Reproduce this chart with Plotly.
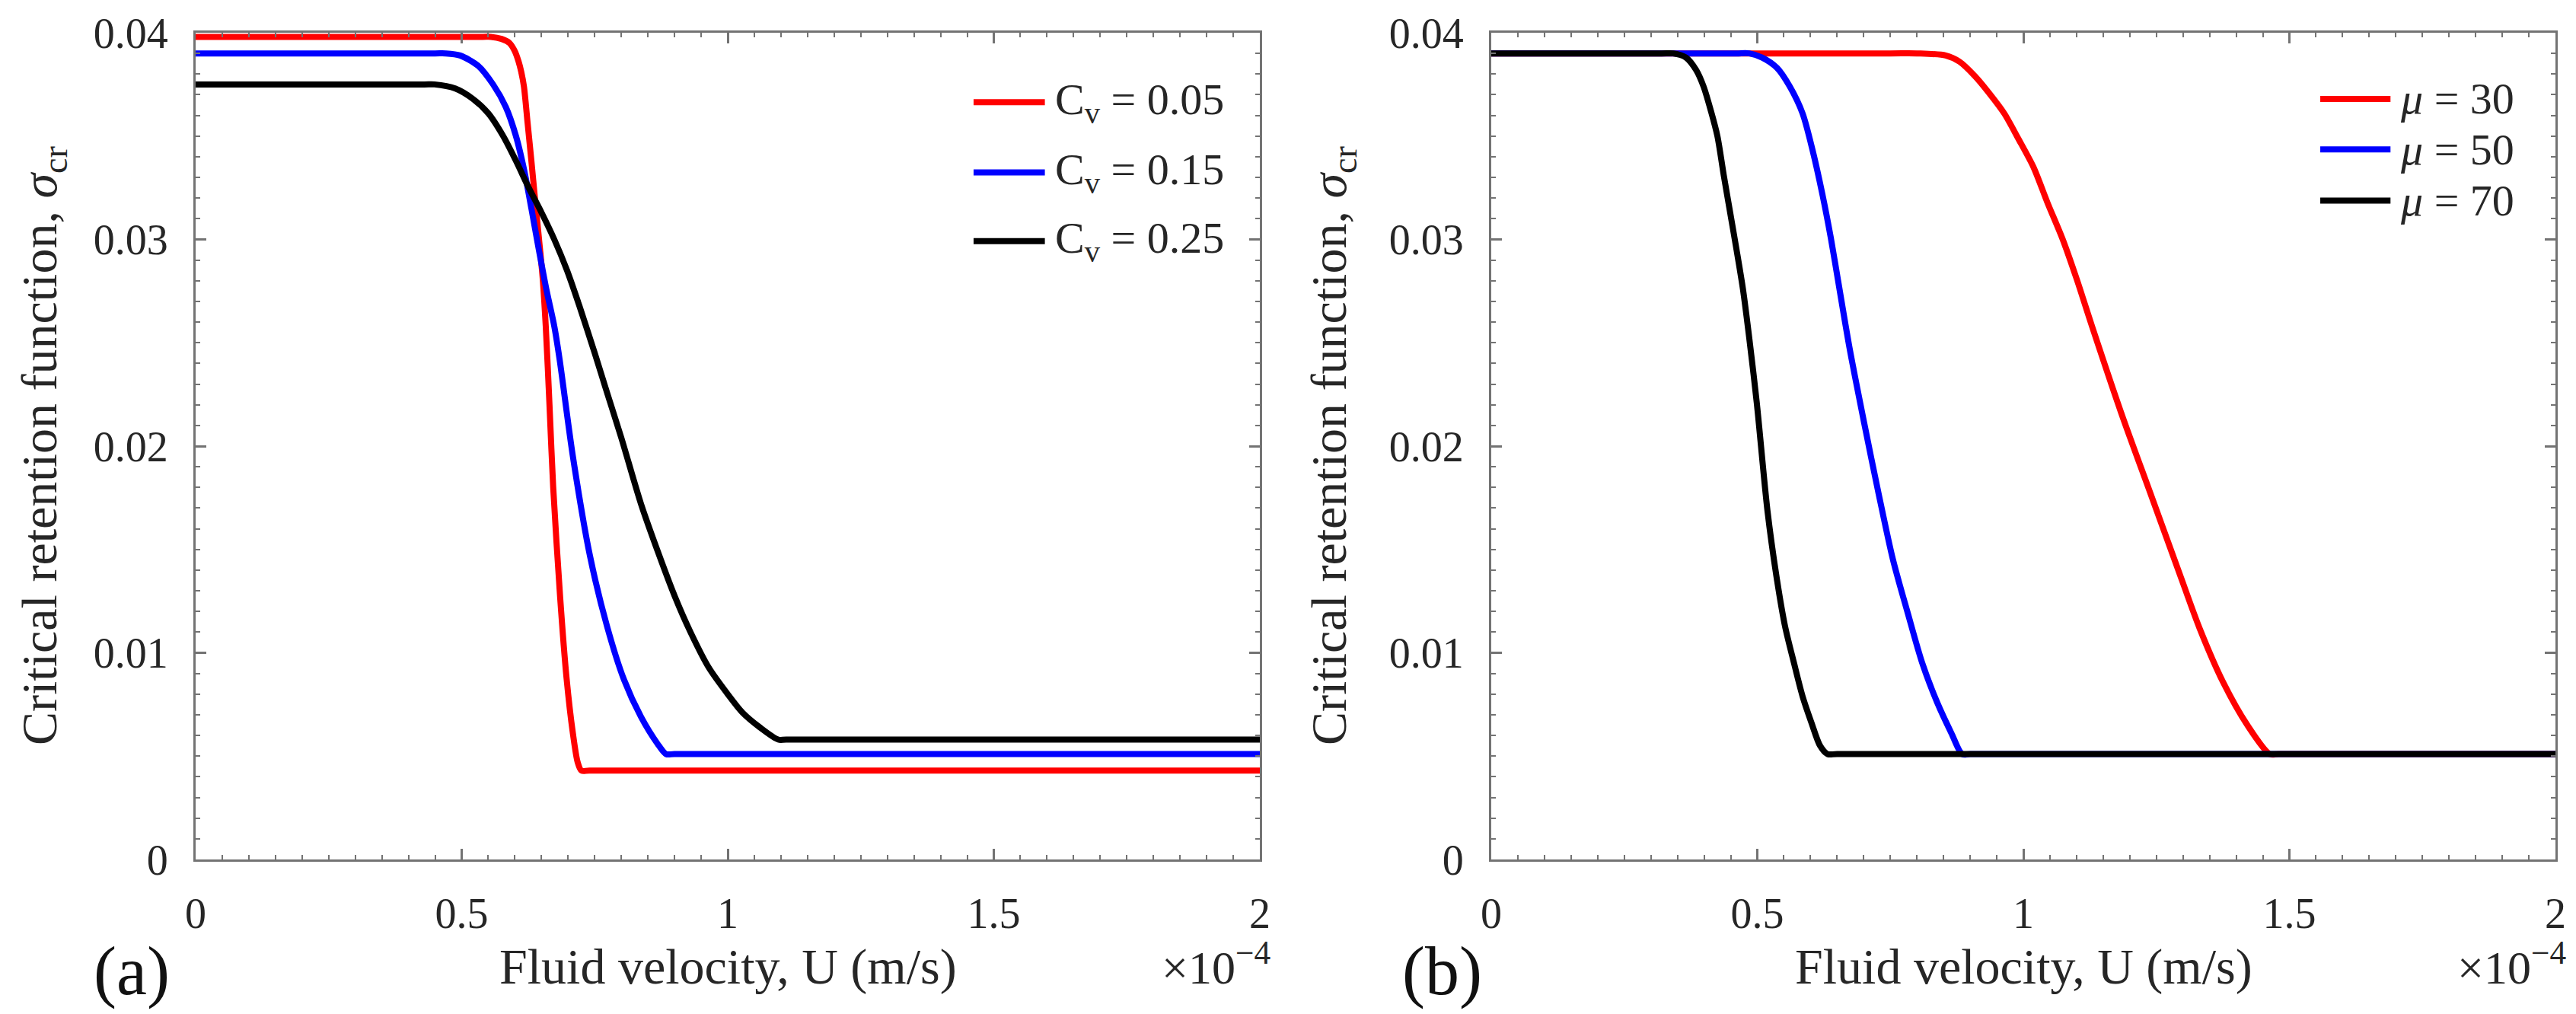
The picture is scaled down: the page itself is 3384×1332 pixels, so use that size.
"""Critical retention function vs fluid velocity: (a) effect of Cv, (b) effect of mu."""
import plotly.graph_objects as go

# velocities are in units of 1e-4 m/s (the axis carries the x10^-4 multiplier)

# ---- panel (a): Cv = 0.05 / 0.15 / 0.25 ----
u_cv005 = [0, 0.54, 0.555, 0.575, 0.59, 0.60, 0.607, 0.612, 0.617, 0.624, 0.631, 0.638,
           0.645, 0.652, 0.658, 0.665, 0.672, 0.685, 0.697, 0.709, 0.718, 0.725, 0.74, 2.0]
sig_cv005 = [0.0398, 0.0398, 0.0398, 0.0397, 0.0395, 0.0391, 0.0386, 0.0381, 0.0374,
             0.0356, 0.0338, 0.0319, 0.0301, 0.0282, 0.0258, 0.0220, 0.0180, 0.0127,
             0.0088, 0.0061, 0.0047, 0.0043, 0.0043, 0.0043]

u_cv015 = [0, 0.45, 0.47, 0.497, 0.531, 0.559, 0.583, 0.602, 0.617, 0.631, 0.645, 0.659,
           0.674, 0.684, 0.709, 0.741, 0.773, 0.805, 0.837, 0.868, 0.884, 0.90, 2.0]
sig_cv015 = [0.0390, 0.0390, 0.0390, 0.0389, 0.0384, 0.0375, 0.0364, 0.0350, 0.0334,
             0.0315, 0.0295, 0.0276, 0.0258, 0.0242, 0.0195, 0.0147, 0.0113, 0.0087,
             0.0069, 0.0056, 0.0051, 0.0051, 0.0051]

u_cv025 = [0, 0.43, 0.449, 0.488, 0.521, 0.55, 0.578, 0.602, 0.626, 0.65, 0.674, 0.698,
           0.721, 0.75, 0.773, 0.80, 0.837, 0.87, 0.901, 0.93, 0.964, 1.0, 1.028, 1.06,
           1.095, 1.11, 2.0]
sig_cv025 = [0.0375, 0.0375, 0.0375, 0.0373, 0.0368, 0.0361, 0.0350, 0.0338, 0.0325,
             0.0313, 0.0300, 0.0285, 0.0268, 0.0245, 0.0226, 0.0204, 0.0172, 0.0148,
             0.0127, 0.0110, 0.0093, 0.0080, 0.0071, 0.0064, 0.0058, 0.0058, 0.0058]

# ---- panel (b): mu = 30 / 50 / 70 ----
u_mu30 = [0, 0.75, 0.80, 0.854, 0.88, 0.909, 0.935, 0.964, 0.99, 1.019, 1.045,
          1.074, 1.10, 1.129, 1.184, 1.239, 1.294, 1.331, 1.375, 1.421, 1.463, 1.48, 2.0]
sig_mu30 = [0.0390, 0.0390, 0.0390, 0.0389, 0.0386, 0.0379, 0.0371, 0.0361,
            0.0349, 0.0335, 0.0318, 0.0300, 0.0281, 0.0258, 0.0216, 0.0177, 0.0138,
            0.0112, 0.0086, 0.0065, 0.0051, 0.0051, 0.0051]

u_mu50 = [0, 0.46, 0.485, 0.509, 0.537, 0.561, 0.585, 0.604, 0.623, 0.638, 0.646, 0.673,
          0.701, 0.728, 0.755, 0.783, 0.810, 0.838, 0.865, 0.885, 0.90, 2.0]
sig_mu50 = [0.0390, 0.0390, 0.0390, 0.0388, 0.0383, 0.0374, 0.0361, 0.0343, 0.0321,
            0.0301, 0.0289, 0.0248, 0.0211, 0.0177, 0.0145, 0.0119, 0.0095, 0.0076,
            0.0061, 0.0051, 0.0051, 0.0051]

u_mu70 = [0, 0.32, 0.342, 0.366, 0.385, 0.399, 0.413, 0.425, 0.437, 0.449, 0.461, 0.473,
          0.485, 0.499, 0.519, 0.536, 0.552, 0.569, 0.585, 0.602, 0.618, 0.632, 0.65, 2.0]
sig_mu70 = [0.0390, 0.0390, 0.0390, 0.0388, 0.0382, 0.0374, 0.0362, 0.0350, 0.0331,
            0.0313, 0.0295, 0.0276, 0.0252, 0.0221, 0.0169, 0.0137, 0.0113, 0.0095,
            0.0079, 0.0066, 0.0055, 0.0051, 0.0051, 0.0051]

labels_a = ["C<sub>v</sub> = 0.05", "C<sub>v</sub> = 0.15", "C<sub>v</sub> = 0.25"]
labels_b = ["<i>μ</i> = 30", "<i>μ</i> = 50", "<i>μ</i> = 70"]
colors = ["#ff0000", "#0000ff", "#000000"]

FONT = "Liberation Serif"
TXT = "#262626"
AX = "#737373"
W, H = 3384, 1332

fig = go.Figure()
panels = [
    ("x", "y", [(u_cv005, sig_cv005), (u_cv015, sig_cv015), (u_cv025, sig_cv025)], labels_a),
    ("x2", "y2", [(u_mu30, sig_mu30), (u_mu50, sig_mu50), (u_mu70, sig_mu70)], labels_b),
]
for xa, ya, series, labels in panels:
    for (u, s), c, name in zip(series, colors, labels):
        fig.add_trace(go.Scatter(x=u, y=s, mode="lines", name=name, xaxis=xa, yaxis=ya,
                                 line=dict(color=c, width=8, shape="spline", smoothing=0.8),
                                 showlegend=False))


def xaxis(domain, anchor):
    return dict(domain=domain, anchor=anchor, range=[0, 2], dtick=0.5, automargin=False,
                showline=True, linecolor=AX, linewidth=3, mirror="ticks",
                ticks="inside", ticklen=14, tickwidth=3, tickcolor=AX,
                minor=dict(ticks="inside", ticklen=6, tickwidth=2, dtick=0.05, tickcolor=AX),
                showgrid=False, zeroline=False, ticklabelstandoff=20,
                tickfont=dict(family=FONT, size=56, color=TXT))


def yaxis(anchor):
    return dict(domain=[1 - 1121 / H, 1 - 35 / H], anchor=anchor, range=[0, 0.04],
                dtick=0.01, automargin=False,
                showline=True, linecolor=AX, linewidth=3, mirror="ticks",
                ticks="inside", ticklen=14, tickwidth=3, tickcolor=AX,
                minor=dict(ticks="inside", ticklen=6, tickwidth=2, dtick=0.001, tickcolor=AX),
                showgrid=False, zeroline=False, ticklabelstandoff=22,
                tickfont=dict(family=FONT, size=56, color=TXT))


fig.update_layout(
    width=W, height=H, margin=dict(l=0, r=0, t=0, b=0, autoexpand=False),
    paper_bgcolor="white", plot_bgcolor="white", showlegend=False,
    xaxis=xaxis([249 / W, 1647 / W], "y"),
    yaxis=yaxis("x"),
    xaxis2=xaxis([1951 / W, 3349 / W], "y2"),
    yaxis2=yaxis("x2"),
)

annotations = []
shapes = []
legend_rows = {
    "x": ([0.916, 0.831, 0.748], 0.731, 0.798, 0.806),
    "x2": ([0.920, 0.859, 0.797], 0.779, 0.845, 0.853),
}
for (xa, ya, _, labels), tag, lab_x, ytitle_x in zip(
        panels, ["(a)", "(b)"], [165, 1887], [48, 1742]):
    ydom = ya + " domain"
    xdom = xa + " domain"
    annotations += [
        dict(text="Fluid velocity, U (m/s)", xref=xdom, x=0.5, xanchor="center",
             yref="paper", y=1 - 1262 / H, yanchor="middle",
             showarrow=False, font=dict(family=FONT, size=66, color=TXT)),
        dict(text="Critical retention function, <i>σ</i><sub>cr</sub>", textangle=-90,
             xref="paper", x=ytitle_x / W, xanchor="center", yref=ydom, y=0.5,
             yanchor="middle", showarrow=False,
             font=dict(family=FONT, size=66, color=TXT)),
        dict(text=tag, xref="paper", x=lab_x / W, xanchor="center", yref="paper",
             y=1 - 1268 / H, yanchor="middle",
             showarrow=False, font=dict(family=FONT, size=90, color="#111111")),
        dict(text="×10<sup>−4</sup>", xref=xdom, x=1 + 16 / 1398, xanchor="right",
             yref="paper", y=1 - 1258 / H, yanchor="middle", showarrow=False,
             font=dict(family=FONT, size=62, color=TXT)),
    ]
    rows, lx0, lx1, tx = legend_rows[xa]
    for yr, c, name in zip(rows, colors, labels):
        shapes.append(dict(type="line", xref=xdom, yref=ydom, x0=lx0, x1=lx1, y0=yr, y1=yr,
                           line=dict(color=c, width=8)))
        annotations.append(dict(text=name, xref=xdom, x=tx, xanchor="left", yref=ydom, y=yr,
                                yanchor="middle", showarrow=False,
                                font=dict(family=FONT, size=58, color=TXT)))

fig.update_layout(annotations=annotations, shapes=shapes)
fig.write_html("out.html")
